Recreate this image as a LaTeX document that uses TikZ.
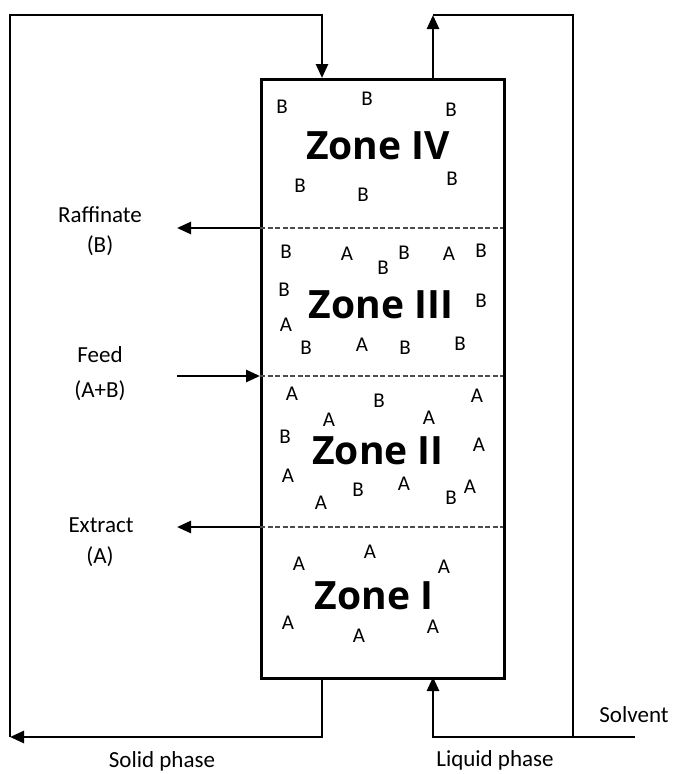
\documentclass[tikz,border=0pt]{standalone}
\usepackage{fontspec}
\setmainfont{Carlito}
\newfontfamily\zonefont{Open Sans}
\usetikzlibrary{arrows.meta}
\tikzset{
  pipe/.style={draw=black,line width=2.6pt},
  arr/.style={-{Triangle[length=14pt,width=12pt]}},
  sep/.style={draw=black!70,line width=1.8pt,dash pattern=on 5pt off 2.5pt},
  lbl/.style={font=\fontsize{23}{26}\selectfont,inner sep=0},
  mol/.style={font=\fontsize{21}{22}\selectfont,inner sep=0},
  zone/.style={font=\zonefont\bfseries\fontsize{39}{40}\selectfont,inner sep=0}}
\begin{document}
\begin{tikzpicture}[x=1pt,y=-1pt]
\useasboundingbox (0,0) rectangle (673,774);
% column
\node[pipe,minimum width=243pt,minimum height=599pt,inner sep=0,anchor=north west] (col) at (260,78) {};
% coordinates
\coordinate (sIn) at (322,78);
\coordinate (sOut) at (322,677);
\coordinate (sCor) at (322,737);
\coordinate (sEnd) at (10,737);
\coordinate (tl) at (10,15);
\coordinate (tm) at (322,15);
\coordinate (lOut) at (433,78);
\coordinate (lTop) at (433,15);
\coordinate (rtc) at (573,15);
\coordinate (rbc) at (573,737);
\coordinate (solv) at (635,737);
\coordinate (lb) at (433,737);
\coordinate (lIn) at (433,677);
\coordinate (d1l) at (260,228); \coordinate (d1r) at (503,228);
\coordinate (d2l) at (260,376); \coordinate (d2r) at (503,376);
\coordinate (d3l) at (260,527); \coordinate (d3r) at (503,527);
\coordinate (raf) at (177,228);
\coordinate (fd) at (177,376);
\coordinate (ext) at (177,527);
% loops
\path[pipe,arr] (sOut) -- (sCor) -- (sEnd);
\path[pipe,arr] (sEnd) -- (tl) -- (tm) -- (sIn);
\path[pipe,arr] (lOut) -- (lTop);
\path[pipe] (lTop) -- (rtc) -- (rbc);
\path[pipe,arr] (solv) -- (lb) -- (lIn);
% separators
\path[sep] (d1l) -- (d1r);
\path[sep] (d2l) -- (d2r);
\path[sep] (d3l) -- (d3r);
% side streams
\path[pipe,arr] (d1l) -- (raf);
\path[pipe,arr] (fd) -- (d2l);
\path[pipe,arr] (d3l) -- (ext);
% labels
\node[lbl] (lraf) at (100,215) {Raffinate};
\node[lbl] (lrafb) at (100,246) {(B)};
\node[lbl] (lfeed) at (100,355) {Feed};
\node[lbl] (lfeedb) at (100,391) {(A+B)};
\node[lbl] (lext) at (101,525) {Extract};
\node[lbl] (lextb) at (100,557) {(A)};
\node[lbl] (lsolv) at (634,715) {Solvent};
\node[lbl] (lsolid) at (162,761) {Solid phase};
\node[lbl] (lliq) at (495,760) {Liquid phase};
% zones
\node[zone] (z4) at (378,146) {Zone IV};
\node[zone] (z3) at (381,305) {Zone III};
\node[zone] (z2) at (378,451) {Zone II};
\node[zone] (z1) at (374,596) {Zone I};
% molecules
\foreach \x/\y/\t [count=\i] in {282/107/B,367/99/B,451/110/B,300/186/B,363/195/B,452/179/B,
  286/252/B,347/254/A,383/268/B,404/253/B,449/254/A,481/251/B,284/290/B,481/301/B,286/325/A,306/348/B,362/345/A,405/348/B,460/344/B,
  292/394/A,379/401/B,477/396/A,329/420/A,429/418/A,285/437/B,479/445/A,288/476/A,404/484/A,358/490/B,470/487/A,451/498/B,321/503/A,
  299/564/A,370/552/A,444/567/A,288/623/A,359/636/A,433/627/A}
  \node[mol] (m\i) at (\x,\y) {\t};
\end{tikzpicture}
\end{document}
